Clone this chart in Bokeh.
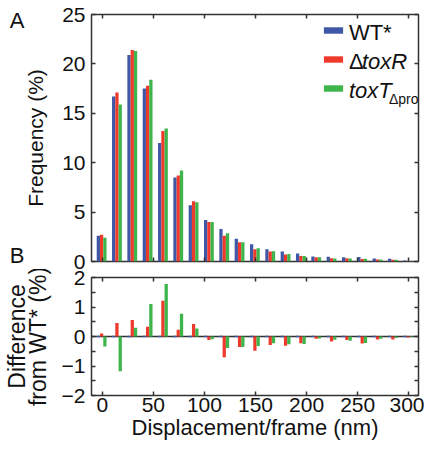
from bokeh.plotting import figure
from bokeh.models import (ColumnDataSource, Range1d, LinearAxis, FixedTicker, Label,
                          Legend, LegendItem, Span, CustomJSTickFormatter)
from bokeh.layouts import column
from bokeh.transform import dodge
from bokeh.embed import file_html
from bokeh.resources import INLINE

# ---- data ----
bins = [0, 15, 30, 45, 60, 75, 90, 105, 120, 135, 150, 165, 180, 195, 210, 225, 240, 255, 270, 285, 300]
freq_wt = [2.6, 16.7, 20.9, 17.5, 12.0, 8.5, 5.7, 4.2, 3.3, 2.3, 1.75, 1.25, 1.0, 0.8, 0.5, 0.48, 0.42, 0.45, 0.3, 0.28, 0.1]
freq_toxR = [2.7, 17.1, 21.4, 17.8, 13.2, 8.7, 6.1, 4.0, 2.6, 1.95, 1.25, 1.0, 0.7, 0.55, 0.43, 0.34, 0.32, 0.25, 0.2, 0.18, 0.06]
freq_toxT = [2.4, 15.9, 21.3, 18.4, 13.45, 9.2, 6.0, 4.0, 2.85, 1.95, 1.35, 1.05, 0.75, 0.55, 0.42, 0.3, 0.3, 0.28, 0.2, 0.18, 0.06]
diff_wt = [0, 0, 0, 0, 0, 0, 0, 0, 0, 0, 0, 0, 0, 0, 0, 0, 0, 0, 0, 0, 0]
diff_toxR = [0.1, 0.46, 0.56, 0.33, 1.21, 0.23, 0.42, -0.12, -0.7, -0.36, -0.48, -0.29, -0.31, -0.23, -0.08, -0.17, -0.12, -0.24, -0.1, -0.1, -0.03]
diff_toxT = [-0.34, -1.18, 0.3, 1.1, 1.78, 0.77, 0.27, -0.09, -0.39, -0.36, -0.32, -0.23, -0.26, -0.25, -0.07, -0.11, -0.14, -0.22, -0.08, -0.05, -0.02]
x_ticks = [0, 50, 100, 150, 200, 250, 300]
freq_ticks = [0, 5, 10, 15, 20, 25]
diff_ticks = [-2, -1, 0, 1, 2]
diff_minor = [-1.5, -0.5, 0.5, 1.5]

FONT = "Liberation Sans"
AX = "#333333"
TXT = "#111111"
BLUE = "#3E57A6"
RED = "#EE3A2C"
GREEN = "#3DB54A"
BW = 3.2

src = ColumnDataSource(dict(bin=bins, wt=freq_wt, toxR=freq_toxR, toxT=freq_toxT,
                            dwt=diff_wt, dtoxR=diff_toxR, dtoxT=diff_toxT))


def style_axis(ax, labels=True):
    ax.axis_line_color = None
    ax.major_tick_in = 4
    ax.major_tick_out = 0
    ax.minor_tick_in = 4
    ax.minor_tick_out = 0
    ax.major_tick_line_color = AX
    ax.major_tick_line_width = 1.5
    ax.minor_tick_line_color = AX
    ax.minor_tick_line_width = 1.5
    ax.major_label_text_font = FONT
    ax.major_label_text_font_size = "21px"
    ax.major_label_text_color = TXT
    ax.axis_label_text_font = FONT
    ax.axis_label_text_font_style = "normal"
    ax.axis_label_text_color = TXT
    if not labels:
        ax.formatter = CustomJSTickFormatter(code="return ''")
        ax.major_label_text_font_size = "1px"
        ax.major_label_standoff = 0


def base_fig(width, height, y_range, **kw):
    p = figure(width=width, height=height, x_range=Range1d(-10.5, 309.5), y_range=y_range,
               output_backend="svg", toolbar_location=None, **kw)
    p.xgrid.grid_line_color = None
    p.ygrid.grid_line_color = None
    p.outline_line_color = AX
    p.outline_line_width = 1.5
    p.outline_line_alpha = 1
    p.background_fill_color = "white"
    p.border_fill_color = "white"
    return p


# ---- panel A ----
p1 = base_fig(424, 269, Range1d(0, 25), min_border_left=89, min_border_right=6,
              min_border_top=14, min_border_bottom=8)
r_wt = p1.vbar(x=dodge("bin", -3.8, range=p1.x_range), top="wt", width=BW, source=src,
               fill_color=BLUE, line_color=None)
r_tr = p1.vbar(x=dodge("bin", -0.6, range=p1.x_range), top="toxR", width=BW, source=src,
               fill_color=RED, line_color=None)
r_tt = p1.vbar(x=dodge("bin", 2.6, range=p1.x_range), top="toxT", width=BW, source=src,
               fill_color=GREEN, line_color=None)

p1.xaxis.ticker = FixedTicker(ticks=x_ticks)
style_axis(p1.xaxis[0], labels=False)
p1.xaxis.minor_tick_line_color = None
p1.yaxis.ticker = FixedTicker(ticks=freq_ticks)
style_axis(p1.yaxis[0])
p1.yaxis.minor_tick_line_color = None
p1.yaxis.major_label_standoff = 6
p1.yaxis.axis_label = "Frequency (%)"
p1.yaxis.axis_label_text_font_size = "21px"
p1.yaxis.axis_label_standoff = 12

ax_top = LinearAxis(ticker=FixedTicker(ticks=x_ticks))
style_axis(ax_top, labels=False)
ax_top.minor_tick_line_color = None
p1.add_layout(ax_top, "above")
ax_right = LinearAxis(ticker=FixedTicker(ticks=freq_ticks))
style_axis(ax_right, labels=False)
ax_right.minor_tick_line_color = None
p1.add_layout(ax_right, "right")

# panel letters: label of an outer, tick-less left axis (A at top, B at bottom)
ax_letters = LinearAxis(ticker=FixedTicker(ticks=[]))
style_axis(ax_letters, labels=False)
ax_letters.major_tick_line_color = None
ax_letters.minor_tick_line_color = None
ax_letters.axis_label = "A\nB"
ax_letters.axis_label_text_font_size = "22px"
ax_letters.axis_label_text_line_height = 9.42
ax_letters.axis_label_standoff = -3
if "axis_label_orientation" in LinearAxis.properties():
    ax_letters.axis_label_orientation = "horizontal"
p1.add_layout(ax_letters, "left")

# series legend (swatches) inside panel A
legend = Legend(items=[LegendItem(label=" ", renderers=[r_wt]),
                       LegendItem(label=" ", renderers=[r_tr]),
                       LegendItem(label=" ", renderers=[r_tt])],
                location=(230, 169), glyph_width=24, glyph_height=8, label_height=8,
                label_width=0, label_standoff=0, label_text_font_size="1px",
                spacing=21, padding=0, margin=0, border_line_color=None,
                background_fill_alpha=0)
p1.add_layout(legend)

LEG_X = 241.4
for txt, y, xo, style, size in [("WT*", 23.2, 0, "normal", "22px"),
                                ("Δ", 20.2, 0, "normal", "22px"),
                                ("toxR", 20.2, 13, "italic", "22px"),
                                ("toxT", 17.35, 0, "italic", "22px"),
                                ("Δpro", 16.45, 40, "normal", "14px")]:
    p1.add_layout(Label(x=LEG_X, y=y, x_offset=xo, text=txt, text_align="left",
                        text_baseline="middle", text_font=FONT, text_font_size=size,
                        text_font_style=style, text_color=TXT))

# ---- panel B ----
p2 = base_fig(424, 183, Range1d(-2, 2), min_border_left=89, min_border_right=6,
              min_border_top=8, min_border_bottom=57)
p2.add_layout(Span(location=0, dimension="width", line_color=AX, line_width=1.5,
                   level="underlay"))
p2.vbar(x=dodge("bin", -3.8, range=p2.x_range), top="dwt", bottom=0, width=BW, source=src,
        fill_color=None, line_color=BLUE, line_width=1.5)
p2.vbar(x=dodge("bin", -0.6, range=p2.x_range), top="dtoxR", bottom=0, width=BW, source=src,
        fill_color=RED, line_color=None)
p2.vbar(x=dodge("bin", 2.6, range=p2.x_range), top="dtoxT", bottom=0, width=BW, source=src,
        fill_color=GREEN, line_color=None)

p2.xaxis.ticker = FixedTicker(ticks=x_ticks)
style_axis(p2.xaxis[0])
p2.xaxis.minor_tick_line_color = None
p2.xaxis.major_label_standoff = 2
p2.xaxis.axis_label = "Displacement/frame (nm)"
p2.xaxis.axis_label_text_font_size = "22px"
p2.xaxis.axis_label_standoff = 0

p2.yaxis.ticker = FixedTicker(ticks=diff_ticks, minor_ticks=diff_minor)
p2.yaxis.major_label_overrides = {-1: "\u22121", -2: "\u22122"}
style_axis(p2.yaxis[0])
p2.yaxis.major_label_standoff = 6
p2.yaxis.axis_label = "Difference\nfrom WT* (%)"
p2.yaxis.axis_label_text_font_size = "23px"
p2.yaxis.axis_label_text_line_height = 0.8
p2.yaxis.axis_label_standoff = 8

ax_top2 = LinearAxis(ticker=FixedTicker(ticks=x_ticks))
style_axis(ax_top2, labels=False)
ax_top2.minor_tick_line_color = None
p2.add_layout(ax_top2, "above")
ax_right2 = LinearAxis(ticker=FixedTicker(ticks=diff_ticks, minor_ticks=diff_minor))
style_axis(ax_right2, labels=False)
p2.add_layout(ax_right2, "right")

layout = column(p1, p2, spacing=0)
open("out.html", "w").write(file_html(layout, INLINE))
